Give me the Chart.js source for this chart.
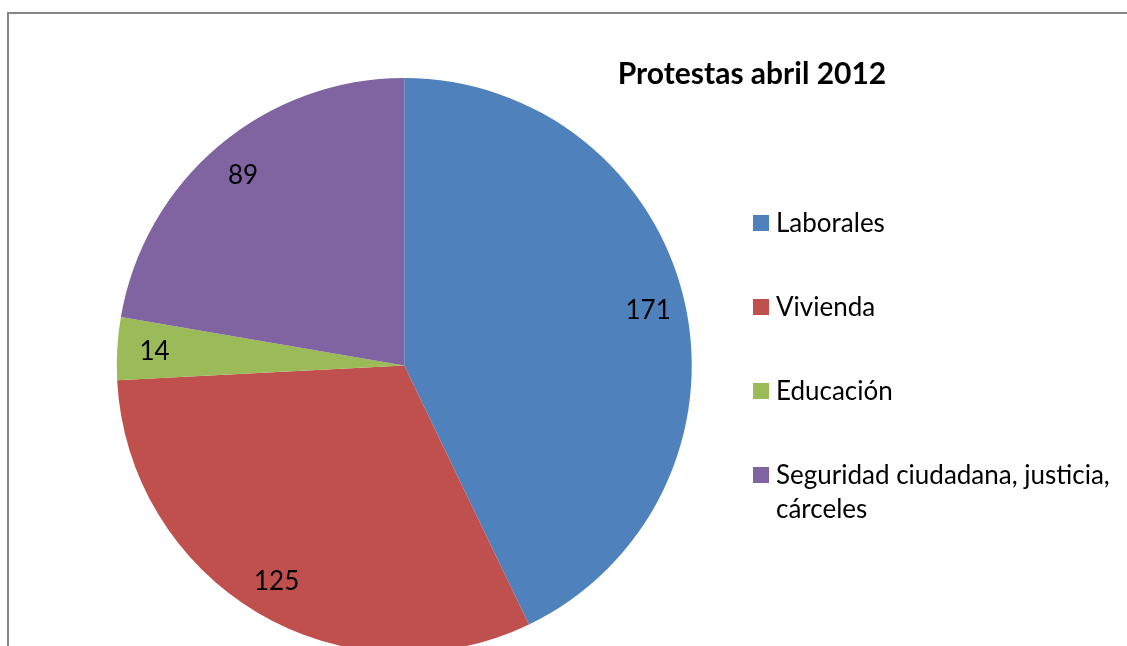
<!DOCTYPE html>
<html>
<head>
<meta charset="utf-8">
<script src="https://cdn.jsdelivr.net/npm/chart.js@4"></script>
<style>
  html, body { margin: 0; padding: 0; background: #fff; overflow: hidden; width: 1127px; height: 646px; }
  #wrap { position: relative; width: 1127px; height: 646px; overflow: hidden; }
  #frame { position: absolute; left: 7px; top: 12px; width: 1200px; height: 700px;
           border-left: 2px solid #878787; border-top: 2px solid #878787; box-sizing: border-box; }
  canvas { position: absolute; left: 0; top: 0; }
</style>
</head>
<body>
<div id="wrap">
  <div id="frame"></div>
  <canvas id="c" width="1127" height="660"></canvas>
</div>
<script>
const title = 'Protestas abril 2012';
const categories = ['Laborales', 'Vivienda', 'Educación', 'Seguridad ciudadana, justicia, cárceles'];
const values = [171, 125, 14, 89];
const colors = ['#4F81BD', '#C0504D', '#9BBB59', '#8064A2'];

const FONT = 'Lato, "Open Sans", sans-serif';

const overlay = {
  id: 'overlay',
  afterDatasetsDraw(chart) {
    const ctx = chart.ctx;
    ctx.save();
    // data labels
    ctx.fillStyle = '#000';
    ctx.font = '26px ' + FONT;
    ctx.textAlign = 'center';
    ctx.textBaseline = 'middle';
    const meta = chart.getDatasetMeta(0);
    meta.data.forEach((arc, i) => {
      const p = arc.getProps(['x', 'y', 'startAngle', 'endAngle', 'outerRadius'], true);
      const mid = (p.startAngle + p.endAngle) / 2;
      const r = p.outerRadius * 0.87;
      ctx.fillText(String(values[i]), p.x + Math.cos(mid) * r, p.y + Math.sin(mid) * r + 1);
    });
    // title
    ctx.font = 'bold 30px ' + FONT;
    ctx.textBaseline = 'alphabetic';
    ctx.textAlign = 'center';
    ctx.fillText(title, 752, 84);
    // legend
    ctx.textAlign = 'left';
    ctx.font = '26px ' + FONT;
    const maxW = 345;
    categories.forEach((lab, i) => {
      const top = 215 + i * 84;
      ctx.fillStyle = colors[i];
      ctx.fillRect(753, top, 16, 16);
      ctx.fillStyle = '#000';
      const words = lab.split(' ');
      const lines = [];
      let cur = '';
      words.forEach(w => {
        const t = cur ? cur + ' ' + w : w;
        if (ctx.measureText(t).width > maxW && cur) { lines.push(cur); cur = w; } else cur = t;
      });
      lines.push(cur);
      lines.forEach((ln, j) => ctx.fillText(ln, 776, top + 17 + j * 34));
    });
    ctx.restore();
  }
};

new Chart(document.getElementById('c'), {
  type: 'pie',
  data: {
    labels: categories,
    datasets: [{ data: values, backgroundColor: colors, borderWidth: 0 }]
  },
  options: {
    responsive: false,
    animation: false,
    layout: { padding: { left: 116.5, right: 435, top: 78, bottom: 7 } },
    plugins: { legend: { display: false }, title: { display: false }, tooltip: { enabled: false } }
  },
  plugins: [overlay]
});
</script>
</body>
</html>
